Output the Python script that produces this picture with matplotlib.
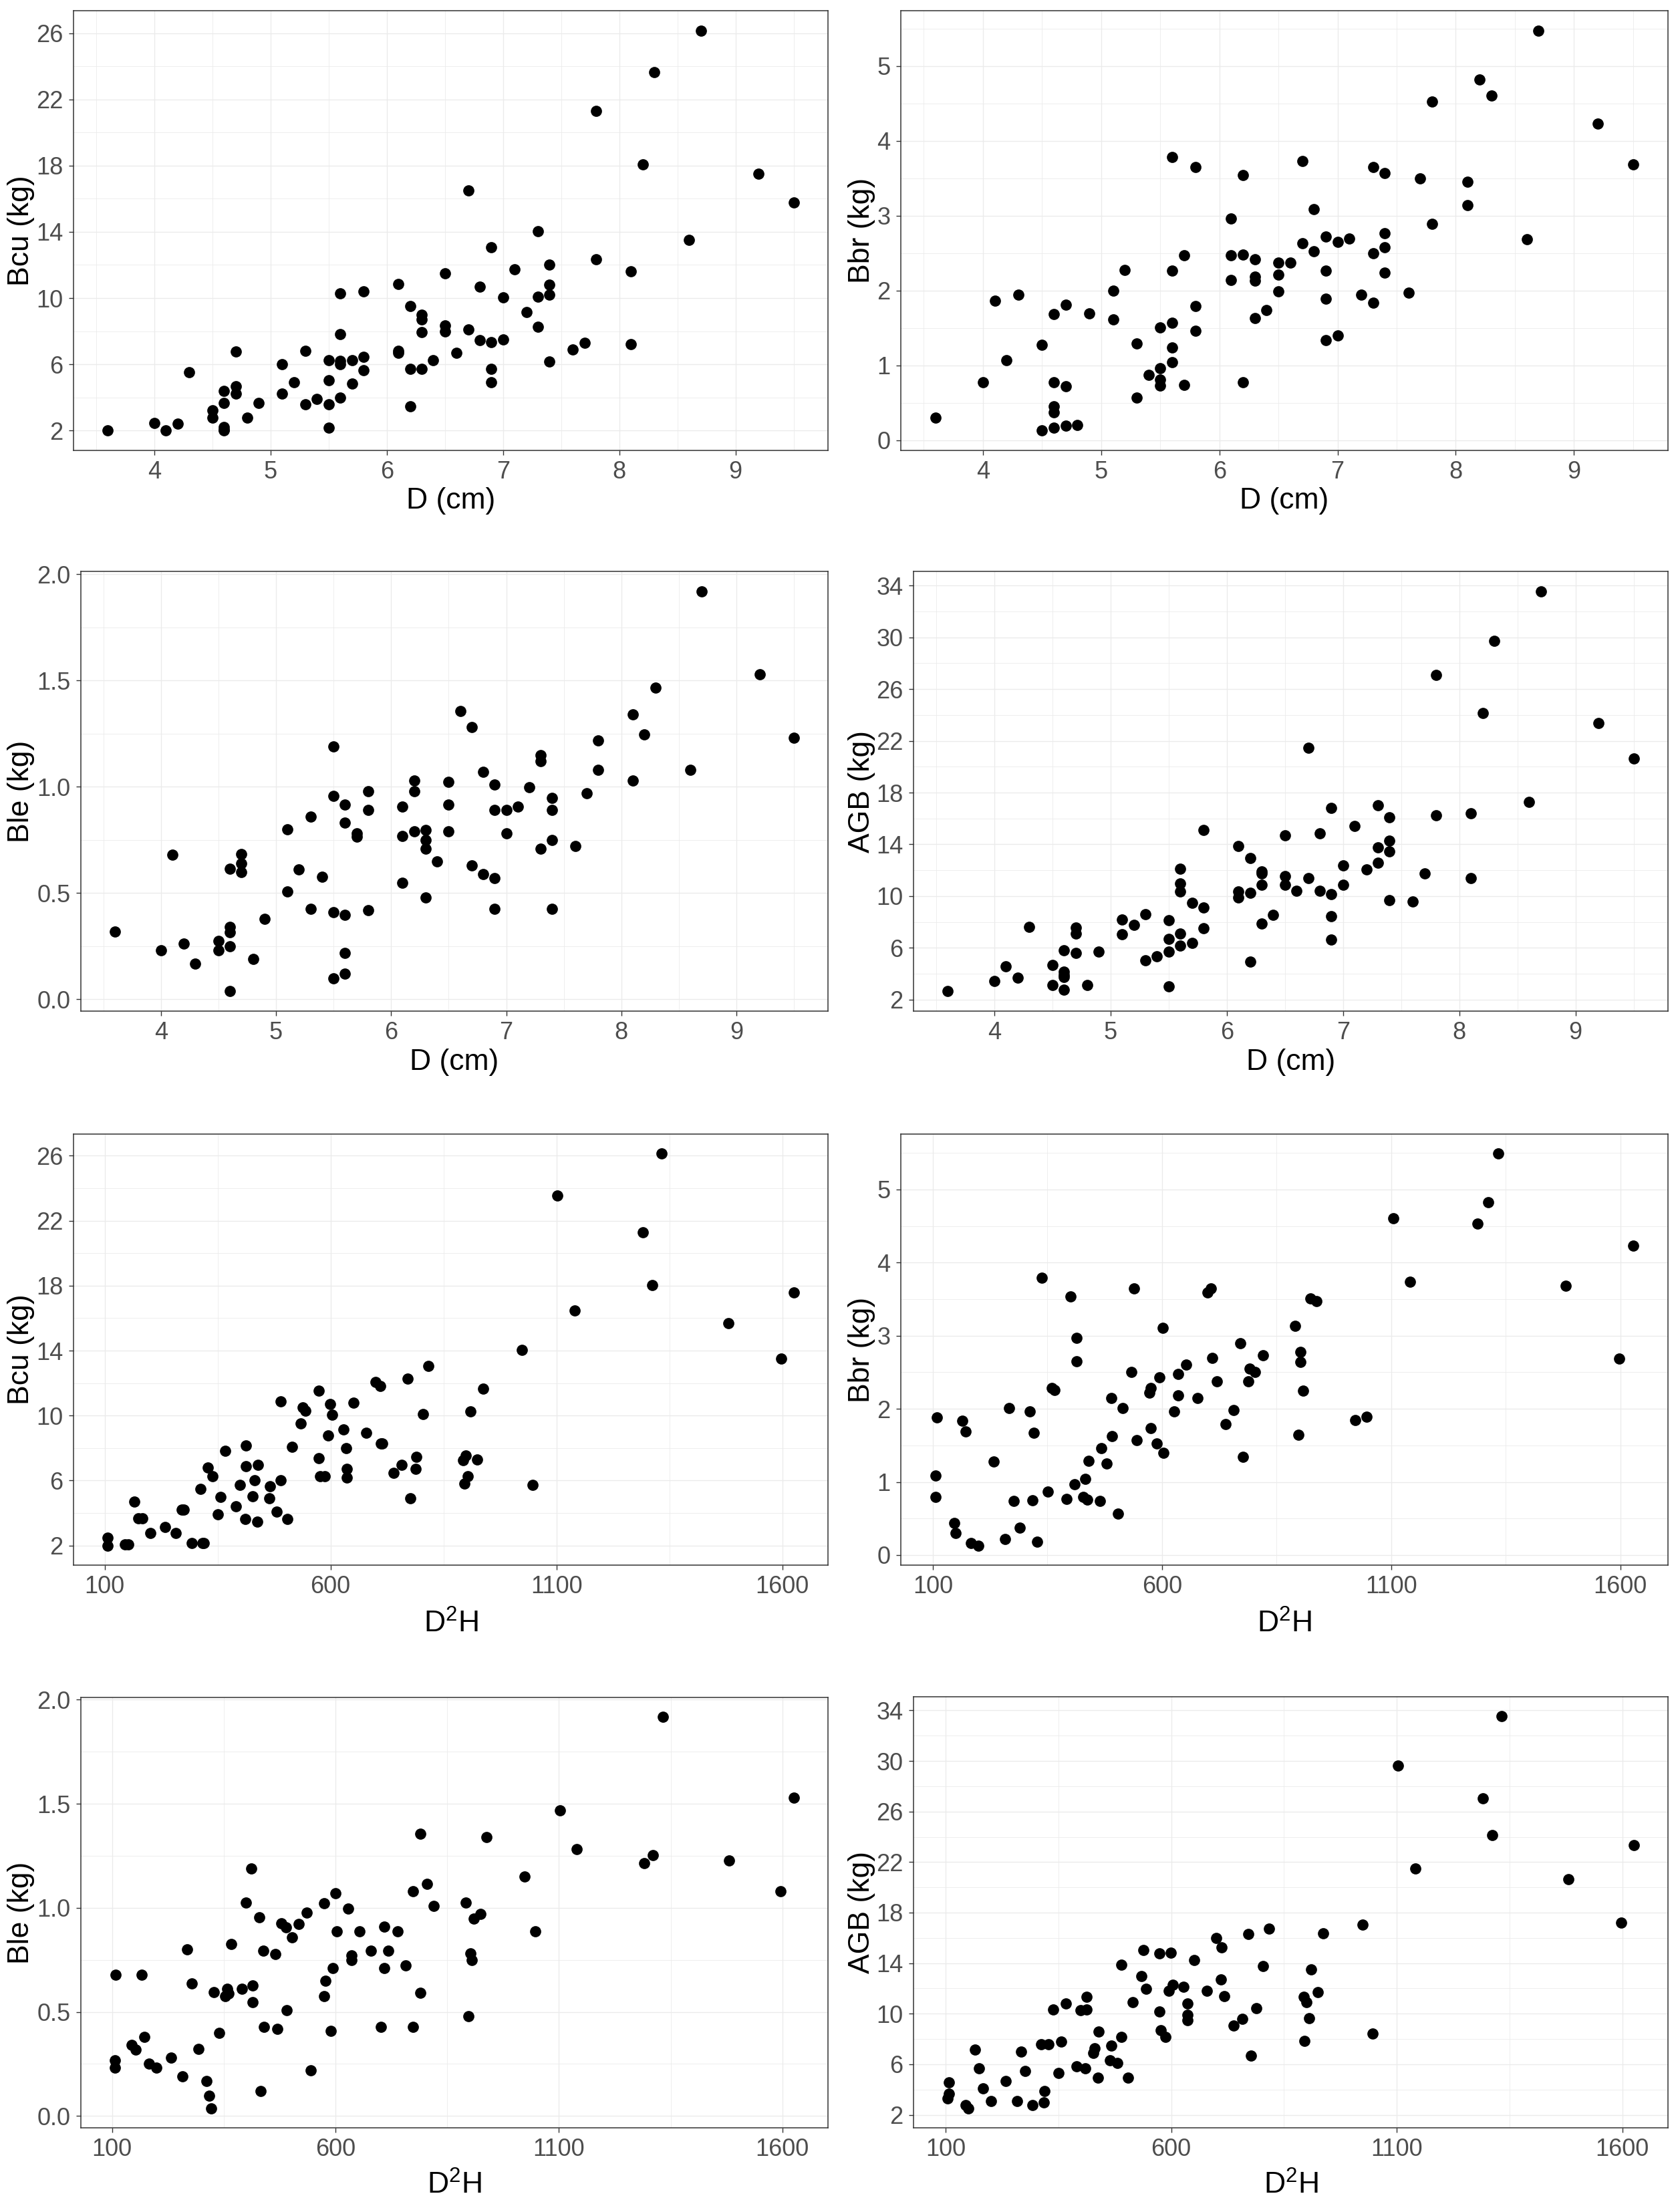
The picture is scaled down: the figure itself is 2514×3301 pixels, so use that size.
"""Eight scatter panels: branch, stem, leaf and total biomass against D and D2H."""
import matplotlib

matplotlib.use("Agg")
import matplotlib.pyplot as plt
from matplotlib.ticker import FixedLocator, FormatStrFormatter

plt.rcParams["font.family"] = ["Liberation Sans", "DejaVu Sans"]
plt.rcParams["mathtext.fontset"] = "custom"
plt.rcParams["mathtext.rm"] = "Liberation Sans"

# diameter (cm), sorted; the four biomass lists below follow the same order
d_cm = [3.6, 4.0, 4.1, 4.2, 4.3, 4.5, 4.5, 4.6, 4.6, 4.6, 4.6, 4.6, 4.7, 4.7, 4.7,
        4.8, 4.9, 5.1, 5.1, 5.2, 5.3, 5.3, 5.4, 5.5, 5.5, 5.5, 5.5,
        5.6, 5.6, 5.6, 5.6, 5.6, 5.7, 5.7, 5.8, 5.8, 5.8, 6.1, 6.1, 6.1,
        6.2, 6.2, 6.2, 6.3, 6.3, 6.3, 6.3, 6.4, 6.5, 6.5, 6.5, 6.6, 6.7, 6.7,
        6.8, 6.8, 6.9, 6.9, 6.9, 6.9, 7.0, 7.0, 7.1, 7.2, 7.3, 7.3, 7.3,
        7.4, 7.4, 7.4, 7.4, 7.6, 7.7, 7.8, 7.8, 8.1, 8.1, 8.2, 8.3, 8.6, 8.7, 9.2, 9.5]

bcu_d = [2.0, 2.44, 2.0, 2.4, 5.5, 3.2, 2.76, 4.4, 3.65, 2.2, 2.05, 2.0, 6.76, 4.67, 4.23,
         2.76, 3.65, 6.0, 4.23, 4.9, 6.8, 3.57, 3.9, 6.24, 5.05, 3.57, 2.16,
         10.27, 7.8, 6.2, 6.0, 4.0, 6.24, 4.83, 10.4, 6.46, 5.64, 10.85, 6.8, 6.7,
         9.5, 5.7, 3.45, 9.0, 8.7, 7.95, 5.7, 6.24, 11.5, 8.35, 8.0, 6.7, 16.5, 8.1,
         10.7, 7.45, 13.06, 7.33, 5.7, 4.9, 10.05, 7.5, 11.75, 9.14, 14.05, 10.1, 8.25,
         12.0, 10.8, 10.2, 6.16, 6.9, 7.3, 21.3, 12.34, 11.6, 7.23, 18.07, 23.65, 13.5,
         26.16, 17.53, 15.76]

bbr_d = [0.30, 0.77, 1.86, 1.07, 1.94, 1.27, 0.13, 1.68, 0.77, 0.45, 0.37, 0.17, 1.81, 0.72, 0.19,
         0.20, 1.69, 2.0, 1.61, 2.27, 1.29, 0.57, 0.87, 1.51, 0.96, 0.81, 0.73,
         3.78, 2.26, 1.57, 1.24, 1.04, 2.47, 0.74, 3.65, 1.79, 1.46, 2.96, 2.47, 2.14,
         3.54, 2.48, 0.77, 2.42, 2.18, 2.13, 1.63, 1.74, 2.37, 2.21, 1.99, 2.37, 3.73, 2.63,
         3.09, 2.52, 2.72, 2.26, 1.89, 1.34, 2.65, 1.40, 2.69, 1.94, 3.65, 2.50, 1.84,
         3.57, 2.76, 2.58, 2.24, 1.97, 3.50, 4.52, 2.89, 3.45, 3.14, 4.82, 4.60, 2.68,
         5.47, 4.23, 3.68]

ble_d = [0.318, 0.231, 0.682, 0.262, 0.167, 0.276, 0.231, 0.615, 0.342, 0.316, 0.249, 0.039,
         0.684, 0.64, 0.60, 0.19, 0.38, 0.80, 0.507, 0.612, 0.86, 0.427, 0.578,
         1.19, 0.958, 0.41, 0.098, 0.918, 0.831, 0.398, 0.22, 0.12, 0.78, 0.765,
         0.98, 0.89, 0.42, 0.907, 0.769, 0.549, 1.03, 0.98, 0.79, 0.796, 0.75, 0.71, 0.478,
         0.648, 1.022, 0.918, 0.79, 1.358, 1.28, 0.63, 1.07, 0.59, 1.01, 0.89, 0.57, 0.427,
         0.89, 0.78, 0.907, 0.998, 1.15, 1.12, 0.71, 0.947, 0.89, 0.75, 0.427,
         0.722, 0.97, 1.22, 1.08, 1.34, 1.03, 1.247, 1.467, 1.08, 1.92, 1.53, 1.23]

agb_d = [2.66, 3.43, 4.56, 3.69, 7.6, 4.67, 3.13, 5.8, 4.14, 3.9, 3.74, 2.79, 7.55, 7.1, 5.6,
         3.13, 5.72, 8.18, 7.04, 7.78, 8.6, 5.06, 5.33, 8.15, 6.7, 5.72, 3.03,
         12.09, 10.98, 10.34, 7.12, 6.17, 9.5, 6.38, 15.1, 9.1, 7.52, 13.85, 10.34, 9.87,
         12.93, 10.26, 4.93, 11.9, 11.74, 10.85, 7.89, 8.57, 14.7, 11.53, 10.9, 10.42,
         21.46, 11.37, 14.83, 10.42, 16.81, 10.16, 8.44, 6.62, 12.38, 10.9, 15.41, 12.06,
         17.0, 13.78, 12.56, 16.07, 14.3, 13.46, 9.68, 9.6, 11.77, 27.08, 16.23,
         16.42, 11.4, 24.13, 29.72, 17.29, 33.55, 23.36, 20.61]

# D2H panels
d2h_bcu = [107, 107, 145, 152, 165, 175, 183, 201, 234, 258, 271, 275, 293, 312, 316, 320,
           328, 338, 351, 357, 367, 390, 399, 411, 412, 412, 428, 432, 438, 439, 464, 466,
           481, 490, 490, 504, 515, 534, 538, 545, 574, 574, 577, 587, 594, 599, 603, 628,
           635, 636, 636, 651, 679, 700, 710, 711, 715, 739, 757, 771, 777, 788, 790, 804,
           817, 894, 900, 896, 903, 910, 925, 937, 1024, 1047, 1102, 1141, 1291, 1312, 1332,
           1480, 1598, 1625]
bcu_d2h = [2.48, 2.0, 2.05, 2.05, 4.69, 3.68, 3.68, 2.78, 3.15, 2.78, 4.2, 4.2, 2.17, 5.5, 2.17, 2.17,
           6.79, 6.26, 3.93, 4.98, 7.84, 4.41, 5.74, 3.62, 8.15, 6.87, 5.04, 6.03, 3.47, 6.96, 4.9, 5.65,
           4.1, 10.88, 6.03, 3.62, 8.09, 9.52, 10.52, 10.29, 11.55, 7.38, 6.26, 6.26, 8.76, 10.71, 10.04, 9.14,
           8.0, 6.72, 6.2, 10.78, 8.93, 12.08, 11.83, 8.3, 8.3, 6.49, 6.96, 12.29, 4.9, 6.70, 7.46, 10.1,
           13.07, 7.25, 7.56, 5.82, 6.26, 10.27, 7.31, 11.64, 14.03, 5.74, 23.56, 16.47, 21.3, 18.04, 26.13,
           15.71, 13.53, 17.6]

d2h_bbr = [108, 106, 106, 146, 150, 164, 171, 183, 199, 232, 258, 266, 276, 290, 311, 317,
           320, 328, 338, 351, 360, 365, 391, 400, 409, 413, 413, 428, 433, 437, 440, 464,
           467, 479, 490, 491, 504, 514, 533, 539, 544, 573, 576, 576, 589, 595, 601, 603,
           626, 635, 635, 652, 678, 699, 707, 710, 719, 738, 756, 771, 777, 788, 791, 803,
           820, 891, 897, 902, 902, 908, 924, 937, 1022, 1047, 1104, 1141, 1289, 1312, 1333,
           1481, 1598, 1628]
bbr_d2h = [1.88, 1.09, 0.79, 0.44, 0.30, 1.84, 1.69, 0.16, 0.13, 1.28, 0.22, 2.01, 0.74, 0.37, 1.96, 0.75,
           1.67, 0.18, 3.79, 0.87, 2.28, 2.26, 0.77, 3.54, 0.97, 2.97, 2.65, 0.79, 1.04, 0.76, 1.29, 0.74,
           1.46, 1.25, 2.15, 1.63, 0.57, 2.01, 2.50, 3.65, 1.57, 2.22, 2.28, 1.74, 1.53, 2.43, 3.11, 1.40,
           1.96, 2.48, 2.18, 2.60, 2.15, 3.59, 3.65, 2.70, 2.38, 1.79, 1.98, 2.90, 1.34, 2.38, 2.55, 2.50,
           2.73, 3.13, 1.64, 2.78, 2.64, 2.25, 3.51, 3.47, 1.85, 1.89, 4.61, 3.74, 4.53, 4.83, 5.49,
           3.68, 2.69, 4.23]

d2h_ble = [106, 106, 108, 144, 153, 166, 172, 183, 199, 232, 257, 268, 279, 293, 311, 317,
           321, 327, 339, 353, 357, 360, 367, 391, 399, 411, 414, 414, 430, 433, 438, 440,
           465, 469, 478, 489, 491, 503, 517, 536, 545, 575, 578, 575, 590, 594, 600, 603,
           628, 635, 635, 653, 679, 701, 709, 709, 718, 739, 757, 774, 773, 790, 790, 804,
           820, 891, 897, 902, 905, 910, 925, 938, 1023, 1047, 1102, 1140, 1290, 1310, 1333,
           1480, 1596, 1626]
ble_d2h = [0.266, 0.233, 0.679, 0.34, 0.319, 0.679, 0.38, 0.252, 0.233, 0.279, 0.191, 0.80, 0.638, 0.321, 0.167, 0.096,
           0.037, 0.595, 0.399, 0.574, 0.611, 0.59, 0.826, 0.611, 1.026, 1.188, 0.627, 0.547, 0.954, 0.12, 0.793, 0.427,
           0.778, 0.419, 0.925, 0.906, 0.507, 0.858, 0.922, 0.978, 0.22, 0.574, 0.651, 1.022, 0.408, 0.71, 1.069, 0.887,
           0.997, 0.77, 0.75, 0.887, 0.794, 0.427, 0.911, 0.71, 0.794, 0.887, 0.722, 0.427, 1.081, 1.357, 0.592, 1.116,
           1.01, 1.026, 0.48, 0.78, 0.75, 0.949, 0.97, 1.34, 1.152, 0.887, 1.469, 1.281, 1.215, 1.252, 1.917,
           1.228, 1.081, 1.528]

d2h_agb = [107, 107, 105, 145, 151, 165, 174, 183, 201, 233, 258, 268, 277, 293, 312, 328,
           318, 319, 338, 351, 357, 367, 390, 399, 409, 412, 412, 428, 431, 438, 439, 464,
           468, 481, 490, 490, 504, 515, 534, 538, 545, 574, 574, 577, 587, 594, 599, 603,
           628, 636, 636, 636, 651, 679, 700, 710, 711, 717, 739, 757, 771, 777, 789, 804,
           817, 894, 900, 896, 905, 910, 925, 937, 1024, 1047, 1102, 1141, 1291, 1312, 1332,
           1480, 1598, 1625]
agb_d2h = [4.57, 3.68, 3.31, 2.79, 2.52, 7.14, 5.7, 4.1, 3.1, 4.65, 3.1, 6.98, 5.49, 2.79, 7.59, 7.59,
           3.0, 3.86, 10.34, 5.3, 7.77, 10.81, 5.83, 10.26, 5.7, 11.31, 10.34, 6.88, 7.25, 4.94, 8.61, 6.33,
           7.46, 6.09, 13.86, 8.16, 4.94, 10.92, 12.96, 15.06, 11.99, 14.75, 10.16, 8.69, 8.16, 11.81, 14.85, 12.31,
           12.12, 10.81, 9.9, 9.48, 14.25, 11.81, 16.0, 12.7, 15.27, 11.39, 9.08, 9.61, 16.3, 6.67, 10.45, 13.75,
           16.71, 11.34, 10.92, 7.85, 9.66, 13.49, 11.7, 16.35, 17.03, 8.43, 29.65, 21.49, 27.02, 24.11, 33.53,
           20.62, 17.21, 23.32]

D_TICKS = [4, 5, 6, 7, 8, 9]
D2H_TICKS = [100, 600, 1100, 1600]
BCU_TICKS = [2, 6, 10, 14, 18, 22, 26]
BBR_TICKS = [0, 1, 2, 3, 4, 5]
BLE_TICKS = [0.0, 0.5, 1.0, 1.5, 2.0]
AGB_TICKS = [2, 6, 10, 14, 18, 22, 26, 30, 34]

W, H = 2514, 3301
XLAB_D = "D (cm)"
XLAB_D2H = r"D$^\mathregular{2}$H"

# (x, y, xlabel, ylabel, xticks, yticks, yfmt, panel box px, ylabel x px, xlabel y px)
panels = [
    (d_cm, bcu_d, XLAB_D, "Bcu (kg)", D_TICKS, BCU_TICKS, "%g", (110, 16, 1239, 674), 32, 749),
    (d_cm, bbr_d, XLAB_D, "Bbr (kg)", D_TICKS, BBR_TICKS, "%g", (1348, 16, 2496, 674), 1289, 749),
    (d_cm, ble_d, XLAB_D, "Ble (kg)", D_TICKS, BLE_TICKS, "%.1f", (121, 855, 1239, 1513), 32, 1590),
    (d_cm, agb_d, XLAB_D, "AGB (kg)", D_TICKS, AGB_TICKS, "%g", (1367, 855, 2496, 1513), 1289, 1590),
    (d2h_bcu, bcu_d2h, XLAB_D2H, "Bcu (kg)", D2H_TICKS, BCU_TICKS, "%g", (110, 1697, 1239, 2342), 32, 2430),
    (d2h_bbr, bbr_d2h, XLAB_D2H, "Bbr (kg)", D2H_TICKS, BBR_TICKS, "%g", (1348, 1697, 2496, 2342), 1289, 2430),
    (d2h_ble, ble_d2h, XLAB_D2H, "Ble (kg)", D2H_TICKS, BLE_TICKS, "%.1f", (121, 2540, 1239, 3184), 32, 3270),
    (d2h_agb, agb_d2h, XLAB_D2H, "AGB (kg)", D2H_TICKS, AGB_TICKS, "%g", (1367, 2539, 2496, 3184), 1289, 3270),
]


def midpoints(ticks):
    step = ticks[1] - ticks[0]
    return [ticks[0] - step / 2] + [t + step / 2 for t in ticks]


def expand(vals, frac=0.05):
    lo, hi = min(vals), max(vals)
    pad = (hi - lo) * frac
    return lo - pad, hi + pad


fig = plt.figure(figsize=(W / 100, H / 100), dpi=100)

for x, y, xlab, ylab, xt, yt, yfmt, box, ylab_px, xlab_px in panels:
    x0, y0, x1, y1 = box
    ax = fig.add_axes([x0 / W, 1 - y1 / H, (x1 - x0) / W, (y1 - y0) / H])
    ax.scatter(x, y, s=145, color="black", linewidths=0, zorder=3)

    ax.set_xlim(expand(x))
    ax.set_ylim(expand(y))
    ax.xaxis.set_major_locator(FixedLocator(xt))
    ax.xaxis.set_minor_locator(FixedLocator(midpoints(xt)))
    ax.yaxis.set_major_locator(FixedLocator(yt))
    ax.yaxis.set_minor_locator(FixedLocator(midpoints(yt)))
    ax.yaxis.set_major_formatter(FormatStrFormatter(yfmt))

    ax.set_axisbelow(True)
    ax.grid(which="major", color="#EBEBEB", linewidth=1.0)
    ax.grid(which="minor", color="#EBEBEB", linewidth=0.6)
    for sp in ax.spines.values():
        sp.set_color("#333333")
        sp.set_linewidth(1.1)
    ax.tick_params(which="major", length=5, width=1.0, color="#333333",
                   labelsize=26, labelcolor="#4D4D4D", pad=6)
    ax.tick_params(which="minor", length=0)

    ax.set_xlabel(xlab, fontsize=32)
    ax.set_ylabel(ylab, fontsize=32)
    ax.xaxis.label.set_va("center")
    ax.yaxis.label.set_va("center")
    ax.xaxis.set_label_coords(0.5, -(xlab_px - y1) / (y1 - y0))
    ax.yaxis.set_label_coords((ylab_px - x0) / (x1 - x0), 0.5)

fig.savefig("out.png", dpi=100)
plt.close(fig)
